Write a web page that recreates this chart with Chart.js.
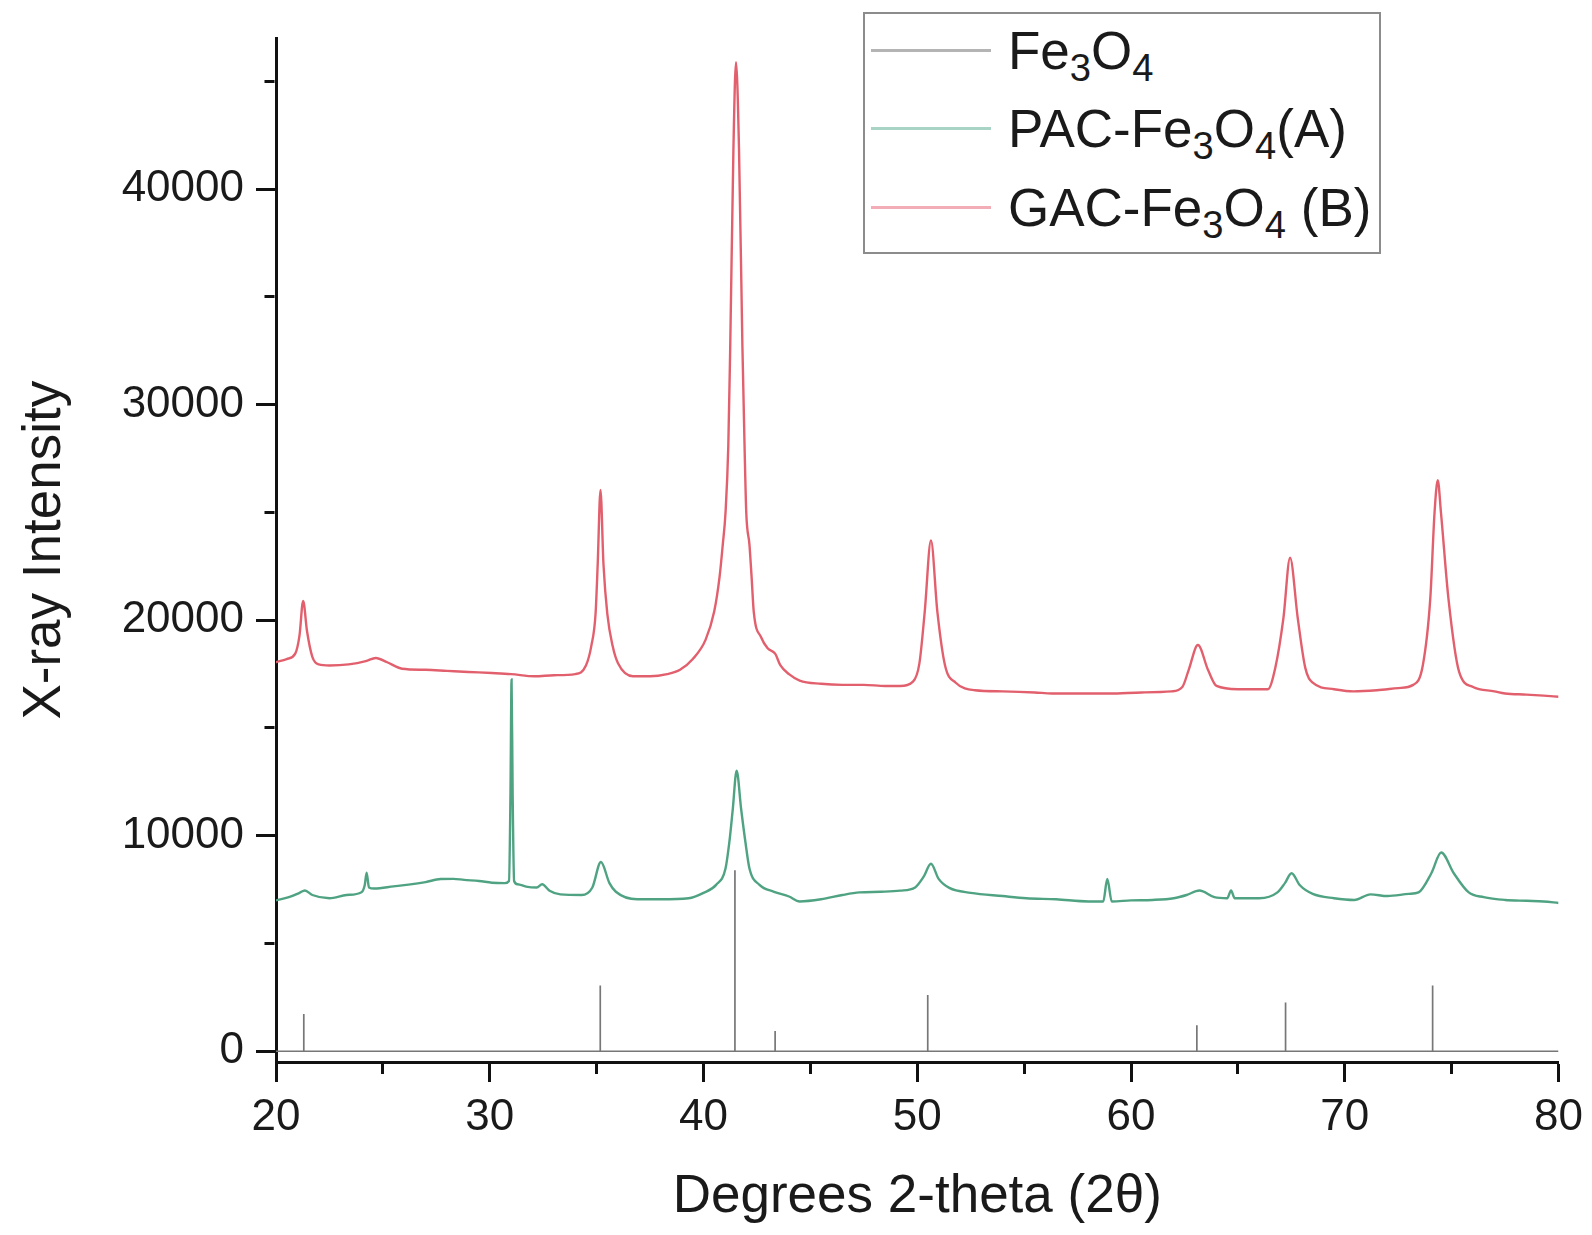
<!DOCTYPE html>
<html>
<head>
<meta charset="utf-8">
<script src="https://cdn.jsdelivr.net/npm/chart.js@4.4.1/dist/chart.umd.min.js"></script>
<style>
  html, body { margin: 0; padding: 0; background: #fff; }
  #wrap { position: relative; width: 1592px; height: 1235px; }
  #legend { position: absolute; left: 863px; top: 12px; width: 514px; height: 238px;
    border: 2px solid #8c8c8c; background: #fff; color: #1a1a1a;
    font-family: "Liberation Sans", Arial, sans-serif; font-size: 53px; }
  .row { position: absolute; left: 0; height: 64px; display: flex; align-items: center; white-space: nowrap; }
  .swatch { width: 120px; height: 3px; margin-left: 6px; margin-right: 17px; }
  .sub { font-size: 0.72em; position: relative; top: 0.32em; }
</style>
</head>
<body>
<div id="wrap">
  <canvas id="c" width="1592" height="1235"></canvas>
  <div id="legend"></div>
</div>
<script>
// axis ticks
const xTicks = [20, 25, 30, 35, 40, 45, 50, 55, 60, 65, 70, 75, 80];
const yTicks = [0, 5000, 10000, 15000, 20000, 25000, 30000, 35000, 40000, 45000];

// Fe3O4 reference pattern (stick positions / heights)
const refPos    = [21.3, 35.17, 41.47, 43.35, 50.49, 63.08, 67.23, 74.11];
const refHeight = [1730, 3050, 8400, 940, 2610, 1200, 2260, 3050];

// PAC-Fe3O4 (A), [2theta, intensity]
const pacPattern = [
  [20.0,7000],[20.6,7150],[21.1,7350],[21.35,7460],[21.7,7250],[22.5,7100],[23.3,7250],[24.0,7380],
  [24.15,7700],[24.24,8290],[24.35,7600],[24.6,7550],[25.5,7650],[26.2,7730],[27.0,7850],[27.7,7990],
  [28.3,8000],[28.8,7950],[29.5,7900],[30.1,7820],[30.7,7800],[30.9,7900],[30.97,12000],[31.02,17250],
  [31.07,12000],[31.14,7900],[31.3,7750],[31.7,7640],[32.2,7600],[32.45,7750],[32.8,7450],[33.3,7280],
  [34.3,7250],[34.8,7600],[35.2,8780],[35.6,7800],[35.9,7400],[36.9,7050],[38.0,7050],[39.3,7100],
  [40.0,7350],[40.59,7720],[41.03,8480],[41.21,9710],[41.37,11240],[41.55,13020],[41.76,11240],[41.96,9710],
  [42.15,8480],[42.62,7720],[43.3,7400],[44.0,7180],[44.5,6950],[45.5,7050],[46.5,7250],[47.3,7370],
  [48.3,7400],[49.2,7450],[49.9,7600],[50.3,8100],[50.64,8700],[51.0,8000],[51.5,7580],[52.5,7350],
  [54.0,7200],[55.1,7100],[56.5,7050],[58.0,6950],[58.7,6950],[58.89,7990],[59.1,6950],[60.0,7000],
  [61.0,7020],[62.0,7100],[62.6,7250],[63.2,7460],[63.9,7150],[64.5,7100],[64.68,7460],[64.85,7100],
  [66.0,7100],[66.85,7370],[67.2,7800],[67.51,8260],[67.9,7700],[68.5,7300],[69.5,7100],[70.45,7020],
  [71.2,7280],[72.0,7200],[73.0,7300],[73.45,7370],[74.05,8260],[74.51,9220],[75.1,8260],[75.8,7370],
  [76.5,7150],[77.5,7020],[78.5,6980],[79.3,6950],[80.0,6880]
];

// GAC-Fe3O4 (B), [2theta, intensity]
const gacPattern = [
  [20.0,18050],[20.5,18200],[20.9,18450],[21.1,19300],[21.27,20900],[21.45,19500],[21.7,18300],[22.0,17950],
  [22.5,17900],[23.4,17950],[24.2,18100],[24.67,18250],[25.2,18050],[25.9,17750],[27.0,17700],[28.0,17650],
  [29.0,17600],[30.1,17550],[31.0,17500],[32.1,17400],[33.0,17450],[34.0,17500],[34.5,17900],[34.75,18800],
  [34.95,20300],[35.05,22600],[35.18,26050],[35.32,22600],[35.5,20300],[35.75,18800],[36.0,18000],[36.7,17400],
  [37.5,17400],[38.3,17500],[38.9,17700],[39.5,18200],[40.1,19100],[40.5,20400],[40.75,22000],[40.9,23500],
  [41.03,25000],[41.16,28100],[41.25,32700],[41.4,41900],[41.52,45900],[41.66,41900],[41.82,32700],[41.92,28100],
  [42.0,25000],[42.15,23500],[42.25,22000],[42.35,20400],[42.7,19200],[43.0,18700],[43.35,18450],[43.6,17900],
  [44.0,17500],[44.5,17200],[45.5,17050],[46.5,17000],[47.5,17000],[48.5,16950],[49.2,16950],[49.8,17150],
  [50.1,18000],[50.35,20400],[50.64,23700],[50.94,20400],[51.3,17900],[51.8,17100],[52.7,16750],[54.0,16700],
  [55.5,16650],[56.3,16600],[57.5,16600],[59.0,16600],[60.5,16650],[61.9,16700],[62.4,16900],[62.7,17700],
  [63.13,18850],[63.6,17700],[64.0,16950],[65.0,16800],[66.4,16800],[66.75,17800],[67.13,20100],[67.44,22900],
  [67.8,20100],[68.15,17800],[68.5,17100],[69.5,16800],[70.4,16700],[71.5,16750],[72.5,16850],[73.2,17000],
  [73.65,17900],[74.0,21000],[74.2,25000],[74.35,26500],[74.5,25000],[74.85,21000],[75.35,17600],[76.0,16900],
  [77.0,16700],[77.5,16600],[78.5,16550],[79.3,16500],[80.0,16450]
];

const labels = ['Fe3O4', 'PAC-Fe3O4(A)', 'GAC-Fe3O4 (B)'];
const colors = ['#777777', '#4fa383', '#e2606d'];
const legendColors = ['#b4b4b4', '#a9d4c5', '#f2adb6'];

// sticks on a zero baseline
const refData = [{x: 20, y: 0}];
refPos.forEach((p, i) => {
  refData.push({x: p, y: 0}, {x: p, y: refHeight[i]}, {x: p, y: 0});
});
refData.push({x: 80, y: 0});

const toXY = arr => arr.map(d => ({x: d[0], y: d[1]}));

Chart.defaults.font.family = '"Liberation Sans", Arial, sans-serif';
Chart.defaults.color = '#1a1a1a';

const isMajorX = v => v % 10 === 0;
const isMajorY = v => v % 10000 === 0;

new Chart(document.getElementById('c'), {
  type: 'line',
  data: {
    datasets: [
      { label: labels[0], data: refData, borderColor: colors[0], borderWidth: 1.7, tension: 0 },
      { label: labels[1], data: toXY(pacPattern), borderColor: colors[1], borderWidth: 2.4, cubicInterpolationMode: 'monotone' },
      { label: labels[2], data: toXY(gacPattern), borderColor: colors[2], borderWidth: 2.4, cubicInterpolationMode: 'monotone' }
    ]
  },
  options: {
    responsive: false,
    animation: false,
    devicePixelRatio: 1,
    parsing: false,
    elements: { point: { radius: 0 } },
    layout: { padding: { top: 28, right: 32, left: 0, bottom: 0 } },
    plugins: { legend: { display: false }, tooltip: { enabled: false } },
    scales: {
      x: {
        type: 'linear', min: 20, max: 80,
        afterBuildTicks: s => { s.ticks = xTicks.map(v => ({value: v})); },
        afterFit: s => { s.height = 173; },
        border: { display: true, color: '#111', width: 3 },
        grid: {
          drawOnChartArea: false, drawTicks: true, tickLength: 20, tickWidth: 3, tickColor: '#111',
          tickBorderDash: ctx => isMajorX(ctx.tick.value) ? [] : [10, 1000]
        },
        ticks: { font: { size: 44 }, padding: 9, maxRotation: 0, autoSkip: false,
          callback: v => isMajorX(v) ? v : '' },
        title: { display: true, text: 'Degrees 2-theta (2θ)', font: { size: 53 }, padding: { top: 0, bottom: 6 } }
      },
      y: {
        type: 'linear', min: -500, max: 47000,
        afterBuildTicks: s => { s.ticks = yTicks.map(v => ({value: v})); },
        afterFit: s => { s.width = 276; },
        border: { display: true, color: '#111', width: 3 },
        grid: {
          drawOnChartArea: false, drawTicks: true, tickLength: 20, tickWidth: 3, tickColor: '#111',
          tickBorderDash: ctx => isMajorY(ctx.tick.value) ? [] : [0, 8.5, 10, 1000]
        },
        ticks: { font: { size: 44 }, padding: 12, autoSkip: false,
          callback: v => isMajorY(v) ? v : '' },
        title: { display: true, text: 'X-ray Intensity', font: { size: 53 }, padding: { top: 14, bottom: 0 } }
      }
    }
  }
});

// legend with subscripts
const legend = document.getElementById('legend');
labels.forEach((lab, i) => {
  const row = document.createElement('div');
  row.className = 'row';
  row.style.top = (4 + i * 78.5) + 'px';
  row.innerHTML = `<span class="swatch" style="background:${legendColors[i]}"></span>` +
    `<span>${lab.replace(/(Fe|O)(\d)/g, '$1<span class="sub">$2</span>')}</span>`;
  legend.appendChild(row);
});
</script>
</body>
</html>
